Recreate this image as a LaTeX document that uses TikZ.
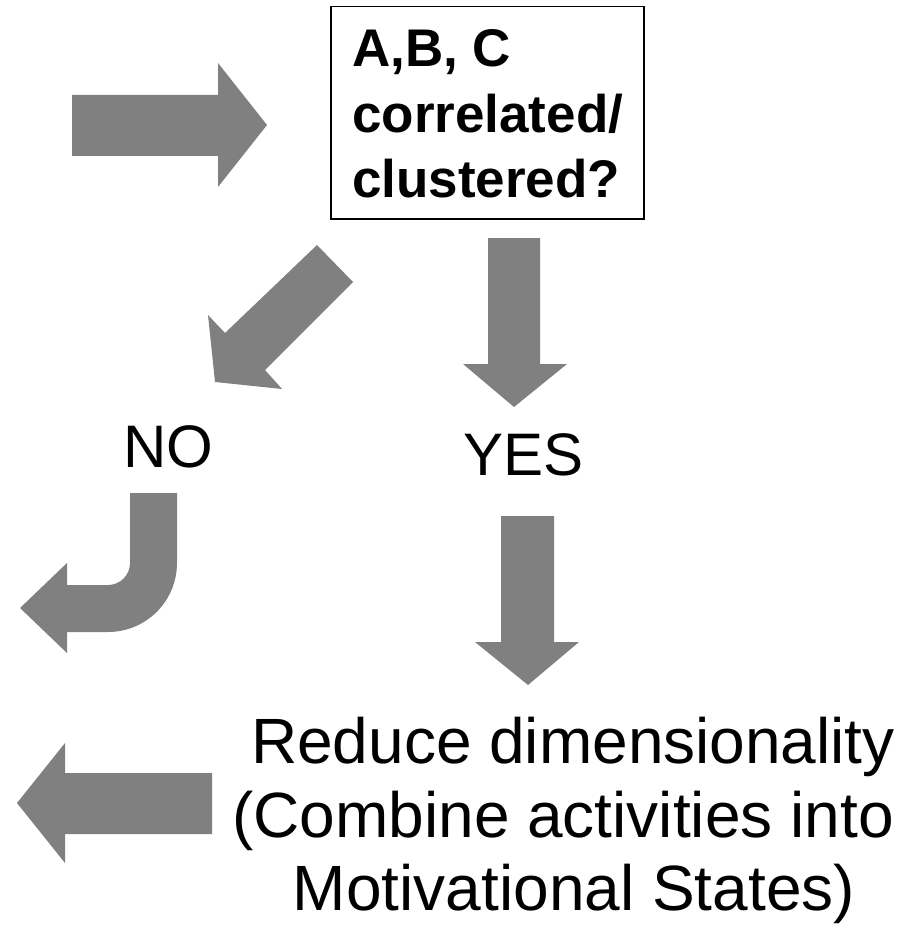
\documentclass[tikz,border=0pt]{standalone}
\usepackage{fontspec}
\setmainfont{Liberation Sans}
\begin{document}
\begin{tikzpicture}[x=1pt,y=-1pt,
  blockarrow/.style={fill=arrowgray,draw=none},
  qbox/.style={draw=black,line width=1.5pt,fill=white,inner sep=0pt,anchor=north west},
  boldtext/.style={inner sep=0pt,anchor=base west,font=\fontsize{53}{63}\bfseries\selectfont},
  answer/.style={inner sep=0pt,anchor=base west,font=\fontsize{60}{70}\selectfont},
  result/.style={inner sep=0pt,anchor=base,font=\fontsize{64}{74}\selectfont}]
\definecolor{arrowgray}{HTML}{808080}
\useasboundingbox (0,0) rectangle (908,928);

% question box
\node[qbox,minimum width=313pt,minimum height=212pt] (q) at (330,6) {};
\node[boldtext] (q1) at (352,67) {A,B, C};
\node[boldtext] (q2) at (352,133) {correlated/};
\node[boldtext] (q3) at (352,197) {clustered?};

% incoming arrow
\fill[blockarrow] (72,95) -- (218,95) -- (218,63) -- (267,125) -- (218,187)
  -- (218,156) -- (72,156) -- cycle;

% diagonal arrow towards NO
\fill[blockarrow] (317,245) -- (353,282) -- (265,370) -- (282,389) -- (215,382)
  -- (208,315) -- (225,333) -- cycle;

% arrow towards YES
\fill[blockarrow] (488,238) -- (540,238) -- (540,364) -- (567,364) -- (514,407)
  -- (463,364) -- (488,364) -- cycle;

\node[answer] (no) at (123,467) {NO};
\node[answer] (yes) at (463,475) {YES};

% bent arrow below NO
\fill[blockarrow] (130,493) -- (177,493) -- (177,563)
  arc[start angle=0,end angle=90,radius=69] -- (67,632) -- (67,653) -- (20,608)
  -- (67,563) -- (67,585) -- (108,585)
  arc[start angle=90,end angle=0,radius=22] -- cycle;

% arrow below YES
\fill[blockarrow] (501,516) -- (554,516) -- (554,642) -- (579,642) -- (528,685)
  -- (475,642) -- (501,642) -- cycle;

% outgoing arrow
\fill[blockarrow] (212,773) -- (65,773) -- (65,743) -- (17,803) -- (65,863)
  -- (65,834) -- (212,834) -- cycle;

\node[result] (r1) at (573,763) {Reduce dimensionality};
\node[result] (r2) at (563,837) {(Combine activities into};
\node[result] (r3) at (574,910) {Motivational States)};
\end{tikzpicture}
\end{document}
